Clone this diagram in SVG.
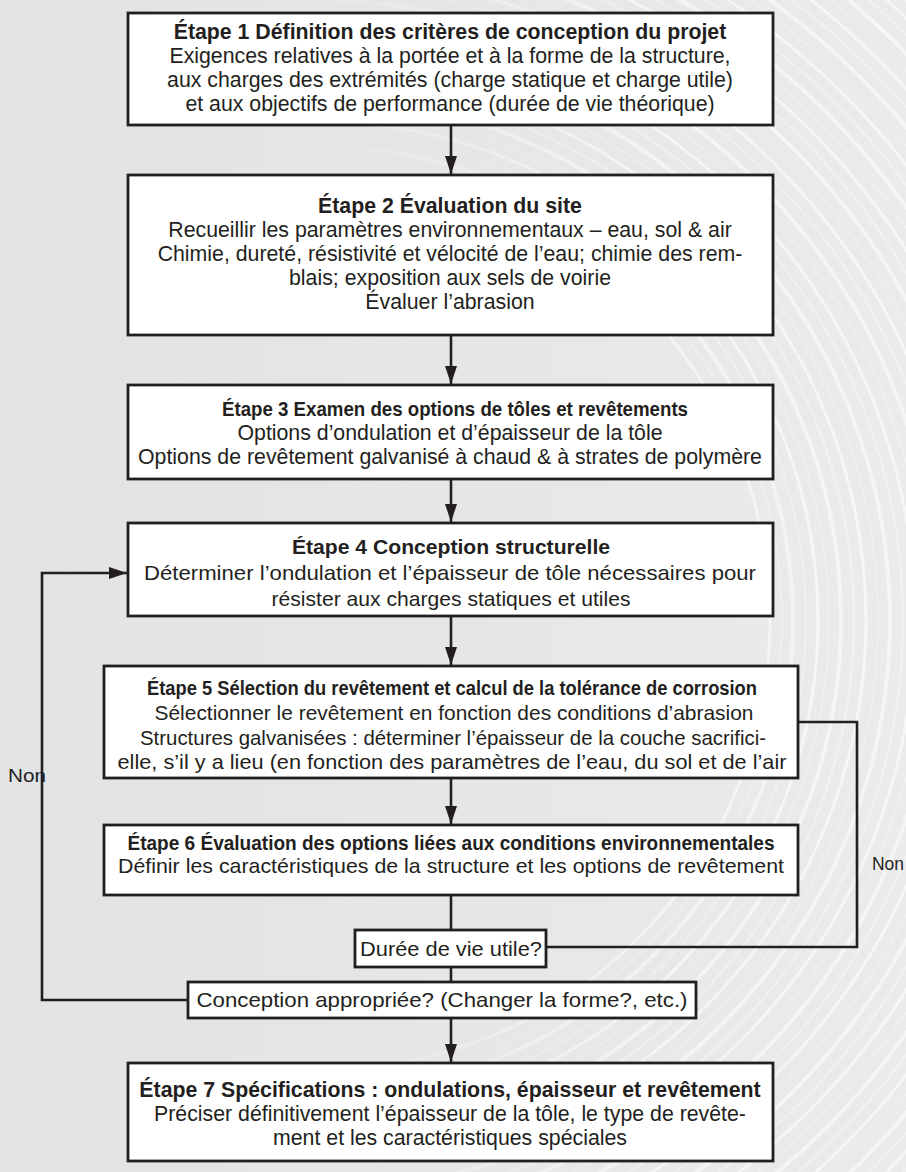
<svg xmlns="http://www.w3.org/2000/svg" width="906" height="1172" viewBox="0 0 906 1172">
<defs>
<style>
.box{fill:#ffffff;stroke:#231f20;stroke-width:2.8}
.ln{fill:none;stroke:#231f20;stroke-width:2.6}
.t{font-family:"Liberation Sans",Arial,sans-serif;font-size:21.3px;fill:#231f20;text-anchor:middle}
.b{font-weight:bold}
.n{font-family:"Liberation Sans Narrow","Liberation Sans",Arial,sans-serif;font-size:21px;fill:#231f20;text-anchor:middle}
.lbl{font-family:"Liberation Sans",Arial,sans-serif;font-size:19px;fill:#231f20}
.sw{fill:none;stroke:#ffffff}
</style>
<marker id="ah" viewBox="0 0 18 12" refX="18" refY="6" markerWidth="18" markerHeight="12" markerUnits="userSpaceOnUse" orient="auto">
<path d="M0,0 L18,6 L0,12 z" fill="#231f20"/>
</marker>
<linearGradient id="bg" x1="0" y1="0" x2="1" y2="0">
<stop offset="0" stop-color="#e2e3e5"/>
<stop offset="0.5" stop-color="#e5e6e8"/>
<stop offset="1" stop-color="#ebebec"/>
</linearGradient>
<linearGradient id="fade" x1="0" y1="0" x2="906" y2="0" gradientUnits="userSpaceOnUse">
<stop offset="0.3" stop-color="#fff" stop-opacity="0"/>
<stop offset="0.72" stop-color="#fff" stop-opacity="1"/>
</linearGradient>
<mask id="m">
<rect x="0" y="0" width="906" height="1172" fill="url(#fade)"/>
</mask>
</defs>
<rect x="0" y="0" width="906" height="1172" fill="url(#bg)"/>
<g id="swirl" mask="url(#m)">
<circle class="sw" cx="320" cy="620" r="450" stroke-width="3" opacity="0.5"/>
<circle class="sw" cx="320" cy="620" r="462" stroke-width="1.5" opacity="0.3"/>
<circle class="sw" cx="320" cy="620" r="473" stroke-width="4" opacity="0.45"/>
<circle class="sw" cx="320" cy="620" r="486" stroke-width="2" opacity="0.3"/>
<circle class="sw" cx="320" cy="620" r="498" stroke-width="3" opacity="0.55"/>
<circle class="sw" cx="320" cy="620" r="509" stroke-width="1.5" opacity="0.3"/>
<circle class="sw" cx="320" cy="620" r="521" stroke-width="4" opacity="0.5"/>
<circle class="sw" cx="320" cy="620" r="534" stroke-width="2" opacity="0.35"/>
<circle class="sw" cx="320" cy="620" r="546" stroke-width="3" opacity="0.55"/>
<circle class="sw" cx="320" cy="620" r="558" stroke-width="1.5" opacity="0.3"/>
<circle class="sw" cx="320" cy="620" r="570" stroke-width="4" opacity="0.5"/>
<circle class="sw" cx="320" cy="620" r="583" stroke-width="2" opacity="0.35"/>
<circle class="sw" cx="320" cy="620" r="595" stroke-width="3" opacity="0.55"/>
<circle class="sw" cx="320" cy="620" r="607" stroke-width="1.5" opacity="0.3"/>
<circle class="sw" cx="320" cy="620" r="619" stroke-width="4" opacity="0.5"/>
<circle class="sw" cx="320" cy="620" r="632" stroke-width="2" opacity="0.35"/>
<circle class="sw" cx="320" cy="620" r="644" stroke-width="3" opacity="0.55"/>
<circle class="sw" cx="320" cy="620" r="656" stroke-width="1.5" opacity="0.3"/>
<circle class="sw" cx="320" cy="620" r="668" stroke-width="4" opacity="0.5"/>
<circle class="sw" cx="320" cy="620" r="681" stroke-width="2" opacity="0.35"/>
<circle class="sw" cx="320" cy="620" r="693" stroke-width="3" opacity="0.55"/>
<circle class="sw" cx="320" cy="620" r="705" stroke-width="1.5" opacity="0.3"/>
<circle class="sw" cx="320" cy="620" r="717" stroke-width="4" opacity="0.5"/>
<circle class="sw" cx="320" cy="620" r="730" stroke-width="2" opacity="0.35"/>
<circle class="sw" cx="320" cy="620" r="742" stroke-width="3" opacity="0.55"/>
<circle class="sw" cx="320" cy="620" r="754" stroke-width="1.5" opacity="0.3"/>
<circle class="sw" cx="320" cy="620" r="766" stroke-width="4" opacity="0.5"/>
<circle class="sw" cx="320" cy="620" r="779" stroke-width="2" opacity="0.35"/>
<circle class="sw" cx="320" cy="620" r="791" stroke-width="3" opacity="0.55"/>
<circle class="sw" cx="320" cy="620" r="803" stroke-width="1.5" opacity="0.3"/>
<circle class="sw" cx="320" cy="620" r="815" stroke-width="4" opacity="0.5"/>
<circle class="sw" cx="320" cy="620" r="828" stroke-width="2" opacity="0.35"/>
<circle class="sw" cx="320" cy="620" r="840" stroke-width="3" opacity="0.55"/>
<circle class="sw" cx="320" cy="620" r="852" stroke-width="1.5" opacity="0.3"/>
<circle class="sw" cx="320" cy="620" r="864" stroke-width="4" opacity="0.5"/>
</g>
<g id="connectors">
<line class="ln" x1="451" y1="125" x2="451" y2="174" marker-end="url(#ah)"/>
<line class="ln" x1="451" y1="335" x2="451" y2="384" marker-end="url(#ah)"/>
<line class="ln" x1="451" y1="479" x2="451" y2="522" marker-end="url(#ah)"/>
<line class="ln" x1="451" y1="616" x2="451" y2="665" marker-end="url(#ah)"/>
<line class="ln" x1="451" y1="778" x2="451" y2="824" marker-end="url(#ah)"/>
<line class="ln" x1="451" y1="895" x2="451" y2="930"/>
<line class="ln" x1="451" y1="967" x2="451" y2="982"/>
<line class="ln" x1="451" y1="1018" x2="451" y2="1062" marker-end="url(#ah)"/>
<polyline class="ln" points="188,1000 42,1000 42,573 127,573" marker-end="url(#ah)"/>
<polyline class="ln" points="798,722 857,722 857,947 546,947"/>
</g>
<g id="step1">
<rect class="box" x="128" y="13" width="645" height="112"/>
<text class="t b" x="450" y="39">Étape 1 Définition des critères de conception du projet</text>
<text class="t" x="450" y="63">Exigences relatives à la portée et à la forme de la structure,</text>
<text class="t" x="450" y="87">aux charges des extrémités (charge statique et charge utile)</text>
<text class="t" x="450" y="111">et aux objectifs de performance (durée de vie théorique)</text>
</g>
<g id="step2">
<rect class="box" x="128" y="175" width="645" height="160"/>
<text class="t b" x="450" y="213">Étape 2 Évaluation du site</text>
<text class="t" x="450" y="237">Recueillir les paramètres environnementaux – eau, sol &amp; air</text>
<text class="t" x="450" y="261">Chimie, dureté, résistivité et vélocité de l’eau; chimie des rem-</text>
<text class="t" x="450" y="285">blais; exposition aux sels de voirie</text>
<text class="t" x="450" y="309">Évaluer l’abrasion</text>
</g>
<g id="step3">
<rect class="box" x="128" y="385" width="645" height="94"/>
<text class="n b" x="455" y="416" textLength="466" lengthAdjust="spacingAndGlyphs">Étape 3 Examen des options de tôles et revêtements</text>
<text class="t" x="450" y="440">Options d’ondulation et d’épaisseur de la tôle</text>
<text class="t" x="450" y="464">Options de revêtement galvanisé à chaud &amp; à strates de polymère</text>
</g>
<g id="step4">
<rect class="box" x="128" y="523" width="645" height="93"/>
<text class="n b" x="451" y="554" textLength="318" lengthAdjust="spacingAndGlyphs">Étape 4 Conception structurelle</text>
<text class="n" x="450" y="580" textLength="612" lengthAdjust="spacingAndGlyphs">Déterminer l’ondulation et l’épaisseur de tôle nécessaires pour</text>
<text class="n" x="451" y="606" textLength="359" lengthAdjust="spacingAndGlyphs">résister aux charges statiques et utiles</text>
</g>
<g id="step5">
<rect class="box" x="104" y="666" width="694" height="112"/>
<text class="n b" x="452" y="695" textLength="610" lengthAdjust="spacingAndGlyphs">Étape 5 Sélection du revêtement et calcul de la tolérance de corrosion</text>
<text class="n" x="454" y="720" textLength="599" lengthAdjust="spacingAndGlyphs">Sélectionner le revêtement en fonction des conditions d’abrasion</text>
<text class="n" x="453" y="745" textLength="626" lengthAdjust="spacingAndGlyphs">Structures galvanisées : déterminer l’épaisseur de la couche sacrifici-</text>
<text class="n" x="452" y="769" textLength="669" lengthAdjust="spacingAndGlyphs">elle, s’il y a lieu (en fonction des paramètres de l’eau, du sol et de l’air</text>
</g>
<g id="step6">
<rect class="box" x="104" y="825" width="694" height="70"/>
<text class="n b" x="451" y="850" textLength="647" lengthAdjust="spacingAndGlyphs">Étape 6 Évaluation des options liées aux conditions environnementales</text>
<text class="n" x="451" y="873" textLength="666" lengthAdjust="spacingAndGlyphs">Définir les caractéristiques de la structure et les options de revêtement</text>
</g>
<g id="decision-duree">
<rect class="box" x="355" y="930" width="191" height="37"/>
<text class="n" x="451" y="956" textLength="182" lengthAdjust="spacingAndGlyphs">Durée de vie utile?</text>
</g>
<g id="decision-conception">
<rect class="box" x="188" y="982" width="508" height="36"/>
<text class="n" x="442" y="1007" textLength="491" lengthAdjust="spacingAndGlyphs">Conception appropriée? (Changer la forme?, etc.)</text>
</g>
<g id="step7">
<rect class="box" x="128" y="1063" width="645" height="98"/>
<text class="t b" x="450" y="1097">Étape 7 Spécifications : ondulations, épaisseur et revêtement</text>
<text class="t" x="450" y="1121">Préciser définitivement l’épaisseur de la tôle, le type de revête-</text>
<text class="t" x="450" y="1145">ment et les caractéristiques spéciales</text>
</g>
<g id="labels">
<text class="lbl" x="8" y="782" textLength="38" lengthAdjust="spacingAndGlyphs">Non</text>
<text class="lbl" x="872" y="870" textLength="32" lengthAdjust="spacingAndGlyphs">Non</text>
</g>
</svg>
